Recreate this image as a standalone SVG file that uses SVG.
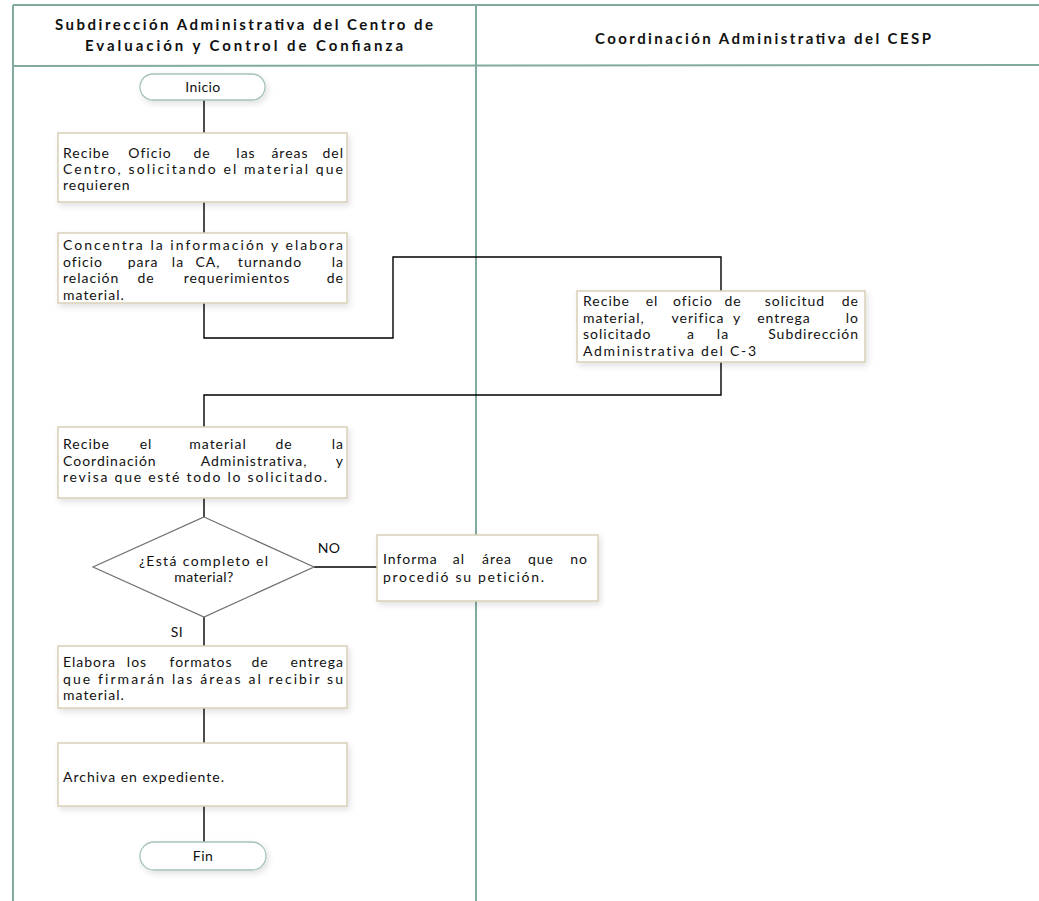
<svg xmlns="http://www.w3.org/2000/svg" width="1039" height="901" viewBox="0 0 1039 901">
<defs>
<filter id="sh" x="-10%" y="-10%" width="130%" height="140%"><feDropShadow dx="2" dy="3" stdDeviation="3" flood-color="#000" flood-opacity="0.12"/></filter>
<style>
.frame{stroke:#83aaa0;stroke-width:2;fill:none}
.box{fill:#fff;stroke:#d8cfb6;stroke-width:1.5;filter:url(#sh)}
.pill{fill:#fff;stroke:#a5c3bb;stroke-width:1.3;filter:url(#sh)}
.dia{fill:#fff;stroke:#707070;stroke-width:1.2}
.c{fill:none;stroke:#000;stroke-width:1.4}
text{font-family:Lato,"Open Sans","Liberation Sans",Arial,sans-serif;font-size:14px;letter-spacing:1px;fill:#111}
.h{font-weight:bold;font-size:15px;text-anchor:middle;letter-spacing:0}
.m{text-anchor:middle}
.e{text-anchor:end}
.s{letter-spacing:0.4px}
</style>
</defs>
<rect width="1039" height="901" fill="#fff"/>
<g id="lanes">
<line class="frame" x1="13" y1="5" x2="1039" y2="5"/>
<line class="frame" x1="13" y1="5" x2="13" y2="901"/>
<line class="frame" x1="476" y1="5" x2="476" y2="901"/>
<line class="frame" x1="13" y1="66" x2="1039" y2="65"/>
<text class="h" x="244" y="30" textLength="378" lengthAdjust="spacing">Subdirección Administrativa del Centro de</text>
<text class="h" x="244" y="51" textLength="318" lengthAdjust="spacing">Evaluación y Control de Confianza</text>
<text class="h" x="763" y="44" textLength="336" lengthAdjust="spacing">Coordinación Administrativa del CESP</text>
</g>
<g id="connectors">
<polyline class="c" points="204,100 204,133"/>
<polyline class="c" points="204,202 204,233"/>
<polyline class="c" points="204,303 204,338 393,338 393,257 721,257 721,291"/>
<polyline class="c" points="721,362 721,395 204,395 204,427"/>
<polyline class="c" points="204,498 204,517"/>
<polyline class="c" points="314,567 377,567"/>
<polyline class="c" points="204,617 204,646"/>
<polyline class="c" points="204,708 204,743"/>
<polyline class="c" points="204,806 204,842"/>
<text x="329" y="553" class="m s">NO</text>
<text x="177" y="637" class="m s">SI</text>
</g>
<g id="inicio">
<rect class="pill" x="140" y="74" width="125" height="26" rx="13"/>
<text class="m s" x="203" y="92">Inicio</text>
</g>
<g id="recibe-oficio">
<rect class="box" x="58" y="133" width="289" height="69"/>
<text x="63" y="158">Recibe</text><text class="m" x="150" y="158">Oficio</text><text class="m" x="202" y="158">de</text><text class="m" x="246" y="158">las</text><text class="m" x="290" y="158">áreas</text><text class="e" x="344" y="158">del</text>
<text x="63" y="174" textLength="281" lengthAdjust="spacing">Centro, solicitando el material que</text>
<text x="63" y="190">requieren</text>
</g>
<g id="concentra">
<rect class="box" x="58" y="233" width="289" height="70"/>
<text x="63" y="250" textLength="281" lengthAdjust="spacing">Concentra la información y elabora</text>
<text x="63" y="266.5">oficio</text><text class="m" x="143" y="266.5">para</text><text class="m" x="178" y="266.5">la</text><text class="m" x="208" y="266.5">CA,</text><text class="m" x="270" y="266.5">turnando</text><text class="e" x="344" y="266.5">la</text>
<text x="63" y="283">relación</text><text class="m" x="146" y="283">de</text><text class="m" x="237" y="283">requerimientos</text><text class="e" x="344" y="283">de</text>
<text x="63" y="299.5">material.</text>
</g>
<g id="recibe-solicitud">
<rect class="box" x="577" y="291" width="288" height="71"/>
<text x="583" y="306">Recibe</text><text class="m" x="652" y="306">el</text><text class="m" x="693" y="306">oficio</text><text class="m" x="733" y="306">de</text><text class="m" x="795" y="306">solicitud</text><text class="e" x="859" y="306">de</text>
<text x="583" y="323">material,</text><text class="m" x="698" y="323">verifica</text><text class="m" x="737" y="323">y</text><text class="m" x="784" y="323">entrega</text><text class="e" x="859" y="323">lo</text>
<text x="583" y="339">solicitado</text><text class="m" x="691" y="339">a</text><text class="m" x="723" y="339">la</text><text class="e" x="859" y="339">Subdirección</text>
<text x="583" y="356" textLength="174" lengthAdjust="spacing">Administrativa del C-3</text>
</g>
<g id="recibe-material">
<rect class="box" x="58" y="427" width="289" height="71"/>
<text x="63" y="449">Recibe</text><text class="m" x="146" y="449">el</text><text class="m" x="218" y="449">material</text><text class="m" x="284" y="449">de</text><text class="e" x="344" y="449">la</text>
<text x="63" y="466">Coordinación</text><text class="m" x="254" y="466">Administrativa,</text><text class="e" x="344" y="466">y</text>
<text x="63" y="482" textLength="265" lengthAdjust="spacing">revisa que esté todo lo solicitado.</text>
</g>
<g id="decision">
<polygon class="dia" points="204,517 314,567 204,617 93,567"/>
<text class="m" x="204" y="566" textLength="130" lengthAdjust="spacing">¿Está completo el</text>
<text class="m s" x="204" y="582">material?</text>
</g>
<g id="informa">
<rect class="box" x="377" y="535" width="221" height="66"/>
<text x="383" y="564">Informa</text><text class="m" x="459" y="564">al</text><text class="m" x="497" y="564">área</text><text class="m" x="541" y="564">que</text><text class="e" x="588" y="564">no</text>
<text x="383" y="582" textLength="162" lengthAdjust="spacing">procedió su petición.</text>
</g>
<g id="elabora">
<rect class="box" x="58" y="646" width="289" height="62"/>
<text x="63" y="667">Elabora</text><text class="m" x="137" y="667">los</text><text class="m" x="201" y="667">formatos</text><text class="m" x="260" y="667">de</text><text class="e" x="344" y="667">entrega</text>
<text x="63" y="684" textLength="281" lengthAdjust="spacing">que firmarán las áreas al recibir su</text>
<text x="63" y="700">material.</text>
</g>
<g id="archiva">
<rect class="box" x="58" y="743" width="289" height="63"/>
<text x="63" y="782">Archiva en expediente.</text>
</g>
<g id="fin">
<rect class="pill" x="140" y="842" width="126" height="28" rx="14"/>
<text class="m s" x="203" y="861">Fin</text>
</g>
</svg>
